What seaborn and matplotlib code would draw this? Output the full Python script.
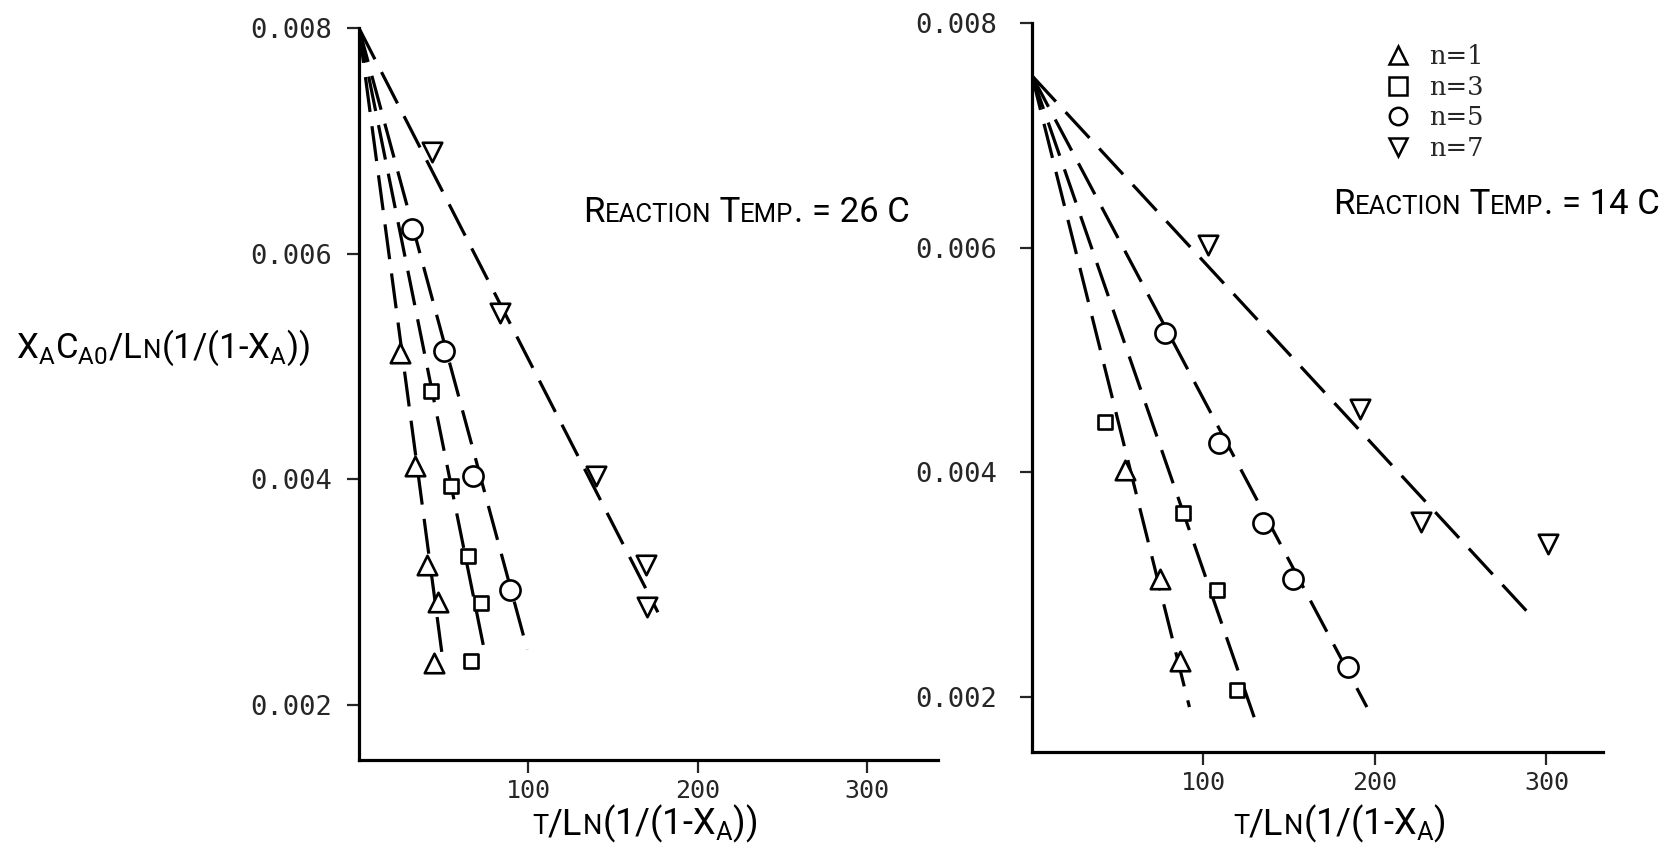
import matplotlib
matplotlib.use("Agg")
import matplotlib.pyplot as plt
import seaborn as sns
import pandas as pd
from matplotlib.offsetbox import TextArea, HPacker, AnchoredOffsetbox
from matplotlib.lines import Line2D

# ---------------- data ----------------
orders = ["1", "3", "5", "7"]
order_labels = ["n=1", "n=3", "n=5", "n=7"]

# Reaction temp 26 C (left panel)
t26_n1_x = [24.0, 33.4, 40.4, 46.7, 44.2]
t26_n1_y = [0.00512, 0.00412, 0.00324, 0.00291, 0.00237]
t26_n3_x = [42.3, 54.3, 64.4, 71.9, 66.3]
t26_n3_y = [0.00478, 0.00394, 0.00332, 0.00290, 0.00239]
t26_n5_x = [31.6, 50.5, 67.5, 89.0]
t26_n5_y = [0.00622, 0.00514, 0.00403, 0.00302]
t26_n7_x = [42.9, 83.3, 140.0, 169.7, 170.3]
t26_n7_y = [0.00690, 0.00547, 0.00403, 0.00324, 0.00287]
t26_intercept = 0.008
t26_line_end_x = [49.0, 74.5, 99.4, 176.6]
t26_line_end_y = [0.00246, 0.00245, 0.00249, 0.00282]

# Reaction temp 14 C (right panel)
t14_n1_x = [54.4, 74.5, 86.3]
t14_n1_y = [0.00402, 0.00305, 0.00232]
t14_n3_x = [42.7, 88.2, 107.6, 119.4]
t14_n3_y = [0.00445, 0.00364, 0.00295, 0.00206]
t14_n5_x = [77.6, 108.8, 135.0, 152.4, 184.2]
t14_n5_y = [0.00524, 0.00426, 0.00355, 0.00305, 0.00227]
t14_n7_x = [102.6, 191.0, 226.9, 301.0]
t14_n7_y = [0.00602, 0.00456, 0.00356, 0.00336]
t14_intercept = 0.00753
t14_line_end_x = [91.8, 131.6, 195.3, 292.4]
t14_line_end_y = [0.00191, 0.00173, 0.00191, 0.00270]

x_ticks = [100, 200, 300]
x_tick_labels = ["100", "200", "300"]
y_ticks = [0.002, 0.004, 0.006, 0.008]
y_tick_labels = ["0.002", "0.004", "0.006", "0.008"]

# ---------------- style ----------------
sns.set_style("ticks")
plt.rcParams["font.family"] = ["DejaVu Sans"]
LETTER = ["Roboto", "DejaVu Sans"]
MONO = ["DejaVu Sans Mono"]

markers = {"1": "^", "3": "s", "5": "o", "7": "v"}
msize = {"1": 14, "3": 10.5, "5": 14.5, "7": 14}
dash = (0, (11, 4.5))


def build(points_x, points_y, intercept, end_x, end_y):
    rows = []
    for n, xs, ys in zip(orders, points_x, points_y):
        for xv, yv in zip(xs, ys):
            rows.append({"n": n, "x": xv, "y": yv})
    pts = pd.DataFrame(rows)
    lrows = []
    for n, ex, ey in zip(orders, end_x, end_y):
        lrows.append({"n": n, "x": 0.0, "y": intercept})
        lrows.append({"n": n, "x": ex, "y": ey})
    lines = pd.DataFrame(lrows)
    return pts, lines


fig = plt.figure(figsize=(16.71, 8.57), dpi=100)
ax1 = fig.add_axes([0.2148, 0.1132, 0.3465, 0.8541])
ax2 = fig.add_axes([0.6176, 0.1225, 0.3417, 0.8507])

panels = [
    (ax1, build([t26_n1_x, t26_n3_x, t26_n5_x, t26_n7_x],
                [t26_n1_y, t26_n3_y, t26_n5_y, t26_n7_y],
                t26_intercept, t26_line_end_x, t26_line_end_y), 342, 10),
    (ax2, build([t14_n1_x, t14_n3_x, t14_n5_x, t14_n7_x],
                [t14_n1_y, t14_n3_y, t14_n5_y, t14_n7_y],
                t14_intercept, t14_line_end_x, t14_line_end_y), 333, 16),
]

for ax, (pts, lines), xmax, ypad in panels:
    for n in orders:
        ld = lines[lines["n"] == n]
        sns.lineplot(data=ld, x="x", y="y", ax=ax, color="black",
                     linewidth=2.3, linestyle=dash, estimator=None,
                     sort=False, zorder=2)
        pd_n = pts[pts["n"] == n]
        sns.scatterplot(data=pd_n, x="x", y="y", ax=ax, marker=markers[n],
                        s=msize[n] ** 2, color="white", edgecolor="black",
                        linewidth=1.9, zorder=3)
    ax.set_xlim(0, xmax)
    ax.set_ylim(0.00151, 0.008)
    ax.set_xticks(x_ticks)
    ax.set_xticklabels(x_tick_labels, fontfamily=MONO, fontsize=18)
    ax.set_yticks(y_ticks)
    ax.set_yticklabels(y_tick_labels, fontfamily=MONO, fontsize=19.5)
    ax.tick_params(axis="x", direction="out", length=9, width=1.6, pad=5)
    ax.tick_params(axis="y", direction="out", length=9, width=1.6, pad=ypad)
    for s in ["top", "right"]:
        ax.spines[s].set_visible(False)
    for s in ["left", "bottom"]:
        ax.spines[s].set_linewidth(2.3)
        ax.spines[s].set_color("black")
    ax.set_xlabel("")
    ax.set_ylabel("")
    ax.patch.set_alpha(0)


def lettering(pieces, xy, loc="center left"):
    children = []
    for txt, size in pieces:
        children.append(TextArea(txt, textprops=dict(fontfamily=LETTER,
                                                     fontsize=size,
                                                     color="black")))
    pack = HPacker(children=children, align="baseline", pad=0, sep=0)
    box = AnchoredOffsetbox(loc=loc, child=pack, pad=0, borderpad=0,
                            frameon=False, bbox_to_anchor=xy,
                            bbox_transform=fig.transFigure)
    fig.add_artist(box)


W, H = 1671.0, 857.0

# y label
lettering([(r"X$_\mathregular{A}$C$_\mathregular{A0}$/L", 25), ("N", 18.5),
           (r"(1/(1-X$_\mathregular{A}$))", 25)], (16 / W, 1 - 348 / H))
# x labels
lettering([("T", 19.5), ("/L", 26), ("N", 19.5),
           (r"(1/(1-X$_\mathregular{A}$))", 26)], (532 / W, 1 - 824 / H))
lettering([("T", 19.5), ("/L", 26), ("N", 19.5),
           (r"(1/(1-X$_\mathregular{A}$)", 26)], (1233 / W, 1 - 824 / H))
# reaction temperatures
lettering([("R", 25), ("EACTION", 18.5), (" T", 25),
           ("EMP", 18.5), (". = 26 C", 25)], (583 / W, 1 - 212 / H))
lettering([("R", 25), ("EACTION", 18.5), (" T", 25),
           ("EMP", 18.5), (". = 14 C", 25)], (1333 / W, 1 - 205 / H))

# legend
handles = [Line2D([], [], marker=markers[n], linestyle="none",
                  markerfacecolor="white", markeredgecolor="black",
                  markeredgewidth=1.8, markersize=12.5) for n in orders]
leg = ax2.legend(handles, order_labels, loc="upper left",
                 bbox_to_anchor=(1385 / W, 1 - 44 / H),
                 bbox_transform=fig.transFigure, frameon=False,
                 handlelength=1.0, handletextpad=0.7, labelspacing=0.22,
                 borderpad=0, borderaxespad=0,
                 prop=dict(family=["DejaVu Serif"], size=18.5))

fig.savefig("out.png", dpi=100)
